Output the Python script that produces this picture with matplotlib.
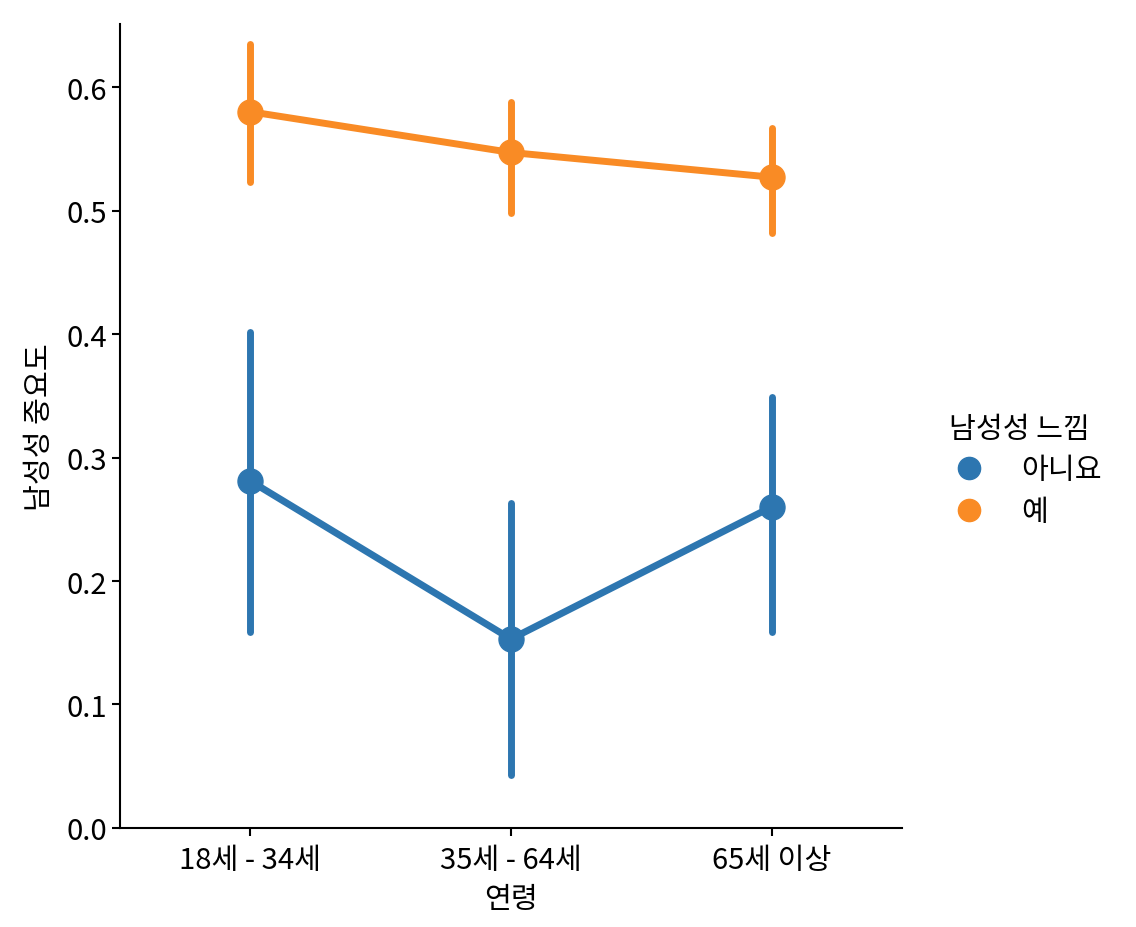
import matplotlib
matplotlib.use("Agg")
import matplotlib.pyplot as plt
from matplotlib.lines import Line2D

plt.rcParams['font.family'] = ['Noto Sans CJK KR', 'DejaVu Sans']

categories = ["18세 - 34세", "35세 - 64세", "65세 이상"]
hue_labels = ["아니요", "예"]
colors = ["#2d76b0", "#f98b25"]
means = {
    "아니요": [0.281, 0.153, 0.260],
    "예": [0.580, 0.547, 0.527],
}
ci_low = {
    "아니요": [0.159, 0.043, 0.159],
    "예": [0.523, 0.498, 0.482],
}
ci_high = {
    "아니요": [0.402, 0.263, 0.349],
    "예": [0.635, 0.588, 0.567],
}
yticks = [0.0, 0.1, 0.2, 0.3, 0.4, 0.5, 0.6]

fig = plt.figure(figsize=(11.36, 9.28), dpi=100)
ax = fig.add_axes([0.1056, 0.1067, 0.794 - 0.1056, 0.973 - 0.1067])

x = list(range(len(categories)))
handles = []
for lab, col in zip(hue_labels, colors):
    for xi, lo, hi in zip(x, ci_low[lab], ci_high[lab]):
        ax.plot([xi, xi], [lo, hi], color=col, lw=5, solid_capstyle='round', zorder=2)
    ax.plot(x, means[lab], color=col, lw=5, marker='o', markersize=18, zorder=3)
    handles.append(Line2D([], [], color=col, marker='o', linestyle='none', markersize=16))

ax.set_xlim(-0.5, 2.5)
ax.set_ylim(0, 0.651)
ax.set_xticks(x)
ax.set_xticklabels(categories)
ax.set_yticks(yticks)
ax.set_yticklabels([f"{v:.1f}" for v in yticks])
ax.tick_params(labelsize=21, width=1.5, length=6)
ax.tick_params(axis='x', pad=6)
ax.set_xlabel("연령", fontsize=21, labelpad=7)
ax.set_ylabel("남성성 중요도", fontsize=21, labelpad=8)
for s in ['top', 'right']:
    ax.spines[s].set_visible(False)
for s in ['left', 'bottom']:
    ax.spines[s].set_linewidth(1.5)

leg = fig.legend(handles, hue_labels, title="남성성 느낌", loc='center left',
                 bbox_to_anchor=(0.812, 0.492), frameon=False, fontsize=21,
                 title_fontsize=21, handlelength=1.4, handletextpad=1.1,
                 labelspacing=0.4)
leg._legend_box.align = "left"

fig.savefig("out.png", dpi=100)
